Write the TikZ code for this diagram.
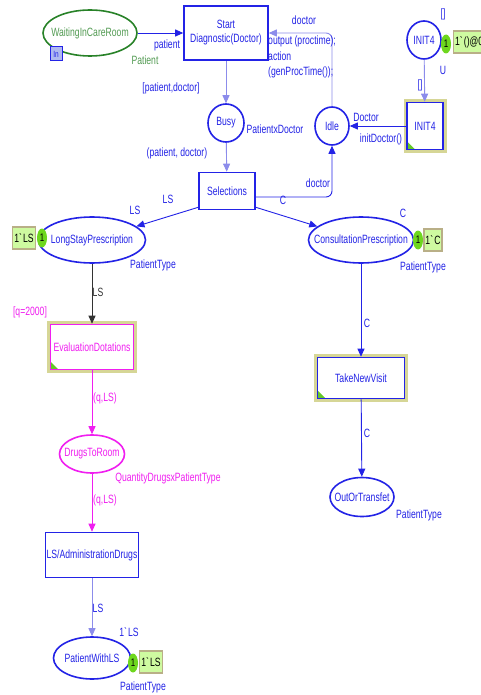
\documentclass[tikz,border=0pt]{standalone}
\usepackage{fontspec}
\setmainfont{Liberation Sans}[FakeStretch=0.72]
\usepackage{tikz}
\usetikzlibrary{arrows.meta,positioning,shapes.geometric}
\usepackage{xcolor}
\definecolor{cpnblue}{RGB}{35,35,230}
\definecolor{cpnlight}{RGB}{140,140,235}
\definecolor{cpngreen}{RGB}{40,130,40}
\definecolor{cpnmag}{RGB}{240,30,240}
\definecolor{halocol}{RGB}{214,214,150}
\definecolor{tokgreen}{RGB}{110,215,30}
\definecolor{tokfill}{RGB}{206,250,160}
\definecolor{tokedge}{RGB}{185,175,135}
\definecolor{corngreen}{RGB}{100,200,40}
\definecolor{tagfill}{RGB}{175,185,240}

\begin{document}
\begin{tikzpicture}[
    x=1pt, y=-1pt,
    font=\fontsize{12}{14}\selectfont,
    place/.style={ellipse, draw=cpnblue, line width=1.6pt, text=cpnblue, inner xsep=-12pt, inner ysep=0pt},
    trans/.style={rectangle, draw=cpnblue, fill=white, line width=1.6pt, text=cpnblue, inner sep=0pt, align=center},
    halotrans/.style={trans, preaction={draw=halocol, line width=7pt},
        path picture={\fill[corngreen] (path picture bounding box.south west) -- ++(8pt,0pt) -- ++(-8pt,8pt) -- cycle;}},
    arc/.style={-{Triangle[length=8pt,width=7pt]}, draw=cpnblue, line width=0.9pt},
    insc/.style={text=cpnblue, inner sep=0pt},
    tokdot/.style={ellipse, fill=tokgreen, minimum width=10pt, minimum height=19pt, inner sep=0pt, font=\fontsize{11}{12}\selectfont},
    tokbox/.style={rectangle, fill=tokfill, draw=tokedge, line width=1.2pt, minimum height=22pt, inner xsep=1.5pt, inner ysep=0pt}
]
\useasboundingbox[fill=white] (0,0) rectangle (480,695);

\node[place, draw=cpngreen, text=cpngreen!80!white, minimum width=94pt, minimum height=46pt] (wait) at (90,33) {WaitingInCareRoom};
\node[trans, minimum width=84pt, minimum height=54pt] (start) at (226,33) {Start\\Diagnostic(Doctor)};
\node[place, minimum width=36pt, minimum height=38pt] (busy) at (226,123) {Busy};
\node[place, minimum width=34pt, minimum height=38pt] (idle) at (332,126) {Idle};
\node[place, minimum width=34pt, minimum height=38pt] (init4p) at (424,40) {INIT4};
\node[halotrans, minimum width=36pt, minimum height=47pt] (init4t) at (425,126) {INIT4};
\node[trans, minimum width=56pt, minimum height=37pt] (sel) at (227,191) {Selections};
\node[place, minimum width=107pt, minimum height=46pt] (lsp) at (92,240) {LongStayPrescription};
\node[place, minimum width=105pt, minimum height=46pt] (cons) at (361,240) {ConsultationPrescription};
\node[halotrans, draw=cpnmag, text=cpnmag, minimum width=83pt, minimum height=45pt] (eval) at (92,347) {EvaluationDotations};
\node[place, draw=cpnmag, text=cpnmag, minimum width=65pt, minimum height=38pt] (drugs) at (92,454) {DrugsToRoom};
\node[trans, minimum width=93pt, minimum height=45pt] (admin) at (92,555) {LS/AdministrationDrugs};
\node[place, minimum width=77pt, minimum height=42pt] (pwls) at (92,658) {PatientWithLS};
\node[halotrans, minimum width=87pt, minimum height=41pt] (visit) at (361,378) {TakeNewVisit};
\node[place, minimum width=64pt, minimum height=39pt] (out) at (362,497) {OutOrTransfet};

\node[draw=cpnblue, fill=tagfill, text=cpnblue, line width=1pt, font=\fontsize{9}{10}\selectfont, minimum width=12pt, minimum height=14pt, inner sep=0pt] (waittag) at (56,54) {In};

\draw[arc] (wait) -- (start);
\draw[arc, draw=cpnlight] (start) -- (busy);
\draw[arc, draw=cpnlight, rounded corners=6pt] (idle) |- (start);
\draw[arc, draw=cpnlight] (busy) -- (sel);
\draw[arc, rounded corners=6pt] ([yshift=-6pt]sel.east) -| (idle);
\draw[arc, draw=cpnlight] (init4p) -- (init4t);
\draw[arc] (init4t) -- (idle);
\draw[arc] ([yshift=3pt]sel.south west) -- (lsp);
\draw[arc] ([yshift=3pt]sel.south east) -- (cons);
\draw[arc, draw=black!80] (lsp) -- (eval);
\draw[arc, draw=cpnmag] (eval) -- (drugs);
\draw[arc, draw=cpnmag] (drugs) -- (admin);
\draw[arc, draw=cpnlight] (admin) -- (pwls);
\draw[arc] (cons) -- (visit);
\draw[arc] (visit) -- (out);

\node[tokdot] (init4dot) at (446,44) {1};
\node[tokbox, anchor=west] (init4box) at (453,42) {1\textasciigrave()@0};
\node[tokdot] (lspdot) at (42,238) {1};
\node[tokbox] (lspbox) at (24,238) {1\textasciigrave LS};
\node[tokdot] (consdot) at (418,240) {1};
\node[tokbox] (consbox) at (433,240) {1\textasciigrave C};
\node[tokdot] (pwlsdot) at (133,663) {1};
\node[tokbox] (pwlsbox) at (151,662) {1\textasciigrave LS};

\node[insc] (pin) at (167,45) {patient};
\node[insc, text=cpngreen!80!white] (waittype) at (145,60) {Patient};
\node[insc] (startout) at (171,88) {[patient,doctor]};
\node[insc] (busytype) at (275,129) {PatientxDoctor};
\node[insc] (busyout) at (177,153) {(patient, doctor)};
\node[insc] (idleout) at (304,20) {doctor};
\node[insc, anchor=north west, align=left, font=\fontsize{12}{15.5}\selectfont] (code) at (268,36) {output (proctime);\\action\\(genProcTime());};
\node[insc] (idlein) at (318,183) {doctor};
\node[insc] (selc) at (283,200) {C};
\node[insc] (sells) at (168,199) {LS};
\node[insc] (lsin) at (135,210) {LS};
\node[insc] (initdoc) at (366,117) {Doctor};
\node[insc] (initfun) at (381,139) {initDoctor()};
\node[insc] (init4init) at (443,14) {[]};
\node[insc] (init4type) at (443,70) {U};
\node[insc] (init4arc) at (420,85) {[]};
\node[insc] (lsptype) at (153,265) {PatientType};
\node[insc] (consinit) at (403,213) {C};
\node[insc] (constype) at (423,267) {PatientType};
\node[insc, text=black!80] (lsarc) at (98,292) {LS};
\node[insc, text=cpnmag] (guard) at (30,312) {[q=2000]};
\node[insc, text=cpnmag] (evalout) at (105,398) {(q,LS)};
\node[insc, text=cpnmag] (drugstype) at (168,478) {QuantityDrugsxPatientType};
\node[insc, text=cpnmag] (drugsout) at (105,500) {(q,LS)};
\node[insc] (adminout) at (98,608) {LS};
\node[insc] (pwlsinit) at (129,632) {1\textasciigrave LS};
\node[insc] (pwlstype) at (143,687) {PatientType};
\node[insc] (consout) at (367,323) {C};
\node[insc] (visitout) at (367,433) {C};
\node[insc] (outtype) at (419,515) {PatientType};

\end{tikzpicture}
\end{document}
